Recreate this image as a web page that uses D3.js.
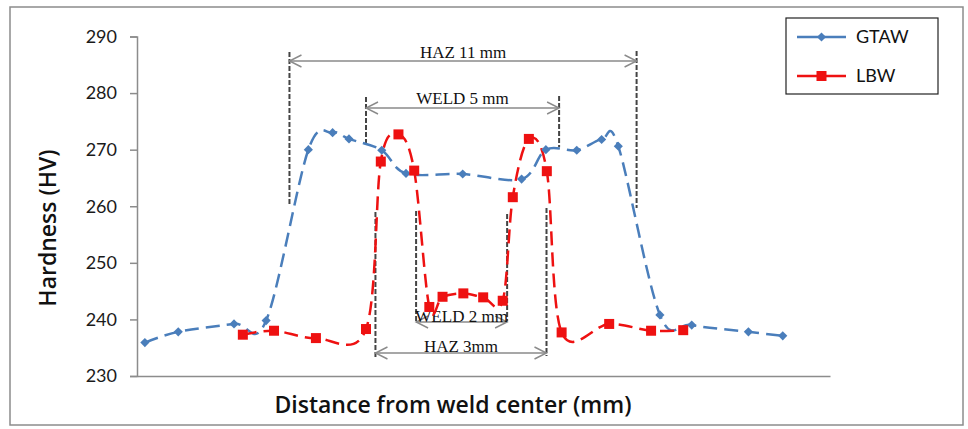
<!DOCTYPE html>
<html><head><meta charset="utf-8">
<script src="https://cdn.jsdelivr.net/npm/d3@7"></script>
<style>
html,body{margin:0;padding:0;background:#fff;}
svg{display:block;}
</style></head>
<body>
<svg id="chart" width="968" height="429"></svg>
<script>
// ---- data ----
const gtawX = [-10.15, -9.09, -7.32, -6.30, -4.96, -4.19, -3.67, -2.63, -1.86, -0.06, 1.81, 2.58, 3.56, 4.35, 4.88, 6.20, 7.21, 9.01, 10.10];
const gtawY = [235.9, 237.8, 239.2, 239.8, 270.0, 273.0, 271.9, 269.9, 265.8, 265.7, 264.8, 270.0, 269.9, 271.8, 270.6, 240.8, 239.0, 237.8, 237.1];
const lbwX = [-7.04, -6.05, -4.72, -3.13, -2.66, -2.10, -1.60, -1.12, -0.70, -0.04, 0.59, 1.21, 1.53, 2.04, 2.61, 3.08, 4.59, 5.92, 6.94];
const lbwY = [237.3, 238.0, 236.7, 238.3, 267.9, 272.7, 266.3, 242.2, 244.0, 244.6, 243.9, 243.3, 261.6, 271.9, 266.2, 237.7, 239.2, 238.0, 238.1];
const yTicks = [230, 240, 250, 260, 270, 280, 290];
const seriesNames = ["GTAW", "LBW"];
// annotation spans (x in mm)
const annoLabels = ["HAZ 11 mm", "WELD 5 mm", "WELD 2 mm", "HAZ 3mm"];
const annoFrom = [-5.56, -3.13, -1.54, -2.83];
const annoTo = [5.46, 3.00, 1.35, 2.60];

const svg = d3.select("#chart");
const x = d3.scaleLinear().domain([-10.4, 11.6]).range([137, 830]);
const y = d3.scaleLinear().domain([230, 290]).range([376, 36.5]);
const sans = "Lato, 'Open Sans', sans-serif";
const titleFont = "'Open Sans', Lato, sans-serif";
const serif = "'Liberation Serif', 'Times New Roman', serif";

// outer frame
svg.append("rect").attr("x", 10).attr("y", 7).attr("width", 953).attr("height", 418)
  .attr("fill", "none").attr("stroke", "#8c8c8c").attr("stroke-width", 1.5);

// y axis
const yAxis = d3.axisLeft(y).tickValues(yTicks).tickSize(7).tickPadding(13).tickFormat(d3.format("d"));
const gy = svg.append("g").attr("transform", "translate(137,0)").call(yAxis);
gy.select(".domain").attr("stroke", "#8c8c8c").attr("stroke-width", 1.5);
gy.selectAll(".tick line").attr("stroke", "#8c8c8c").attr("stroke-width", 1.5);
gy.selectAll(".tick text").attr("font-family", sans).attr("font-size", 18).attr("fill", "#1a1a1a");

// x axis (no ticks)
const xAxis = d3.axisBottom(x).tickValues([]).tickSizeOuter(0);
const gx = svg.append("g").attr("transform", "translate(0,376)").call(xAxis);
gx.select(".domain").attr("stroke", "#8c8c8c").attr("stroke-width", 1.5);

// axis titles
svg.append("text").attr("x", 453).attr("y", 413).attr("text-anchor", "middle")
  .attr("font-family", titleFont).attr("font-size", 23).attr("font-weight", 600).attr("fill", "#111")
  .text("Distance from weld center (mm)");
svg.append("text").attr("transform", "translate(56,228) rotate(-90)").attr("text-anchor", "middle")
  .attr("font-family", titleFont).attr("font-size", 23).attr("font-weight", 600).attr("fill", "#111")
  .text("Hardness (HV)");

// annotations
const ann = svg.append("g");
const vline = (xv, y1, y2) => ann.append("line").attr("x1", x(xv)).attr("x2", x(xv)).attr("y1", y1).attr("y2", y2)
  .attr("stroke", "#444").attr("stroke-width", 2).attr("stroke-dasharray", "5,2");
// HAZ 11
vline(annoFrom[0], 52, 206); vline(annoTo[0], 51, 208);
// WELD 5
vline(annoFrom[1], 97, 144); vline(annoTo[1], 96, 147);
// inner lines
vline(annoFrom[3], 212, 357); vline(annoTo[3], 208, 356);
vline(annoFrom[2], 211, 321); vline(annoTo[2], 214, 321);

function arrow(x1, x2, yy) {
  ann.append("line").attr("x1", x1).attr("x2", x2).attr("y1", yy).attr("y2", yy)
    .attr("stroke", "#8a8a8a").attr("stroke-width", 1.4);
  const hl = 12, hw = 6;
  ann.append("path").attr("d", `M${x1 + hl},${yy - hw}L${x1},${yy}L${x1 + hl},${yy + hw}`)
    .attr("fill", "none").attr("stroke", "#8a8a8a").attr("stroke-width", 1.4);
  ann.append("path").attr("d", `M${x2 - hl},${yy - hw}L${x2},${yy}L${x2 - hl},${yy + hw}`)
    .attr("fill", "none").attr("stroke", "#8a8a8a").attr("stroke-width", 1.4);
}
const annoY = [61, 108, 322, 353];
const textY = [58, 104, 322, 352];
annoLabels.forEach((lab, i) => {
  const x1 = x(annoFrom[i]), x2 = x(annoTo[i]);
  arrow(x1, x2, annoY[i]);
  ann.append("text").attr("x", (x1 + x2) / 2).attr("y", textY[i]).attr("text-anchor", "middle")
    .attr("font-family", serif).attr("font-size", 17).attr("fill", "#111")
    .text(lab);
});

// series
const blue = "#4a7ebb", red = "#ee1111";
const line = d3.line().x(d => x(d[0])).y(d => y(d[1])).curve(d3.curveCatmullRom.alpha(0));
const gData = gtawX.map((v, i) => [v, gtawY[i]]);
const lData = lbwX.map((v, i) => [v, lbwY[i]]);

svg.append("path").datum(gData).attr("d", line).attr("fill", "none").attr("stroke", blue)
  .attr("stroke-width", 2.5).attr("stroke-dasharray", "14,7");
svg.append("path").datum(lData).attr("d", line).attr("fill", "none").attr("stroke", red)
  .attr("stroke-width", 2.5).attr("stroke-dasharray", "14,7");

svg.append("g").selectAll("path").data(gData).join("path")
  .attr("transform", d => `translate(${x(d[0])},${y(d[1])}) rotate(45)`)
  .attr("d", d3.symbol().type(d3.symbolSquare).size(42)).attr("fill", blue);
svg.append("g").selectAll("rect").data(lData).join("rect")
  .attr("x", d => x(d[0]) - 5).attr("y", d => y(d[1]) - 5).attr("width", 10).attr("height", 10)
  .attr("fill", red);

// legend
const lg = svg.append("g");
lg.append("rect").attr("x", 786).attr("y", 18).attr("width", 152).attr("height", 76)
  .attr("fill", "#fff").attr("stroke", "#222").attr("stroke-width", 1.2);
const legY = [37, 76], legC = [blue, red];
seriesNames.forEach((n, i) => {
  lg.append("line").attr("x1", 797).attr("x2", 846).attr("y1", legY[i]).attr("y2", legY[i])
    .attr("stroke", legC[i]).attr("stroke-width", 2.5);
  if (i === 0) {
    lg.append("path").attr("transform", `translate(821.5,${legY[i]}) rotate(45)`)
      .attr("d", d3.symbol().type(d3.symbolSquare).size(42)).attr("fill", blue);
  } else {
    lg.append("rect").attr("x", 816.5).attr("y", legY[i] - 5).attr("width", 10).attr("height", 10).attr("fill", red);
  }
  lg.append("text").attr("x", 856).attr("y", legY[i] + 6).attr("font-family", sans)
    .attr("font-size", 18).attr("fill", "#111").text(n);
});
</script>
</body></html>
